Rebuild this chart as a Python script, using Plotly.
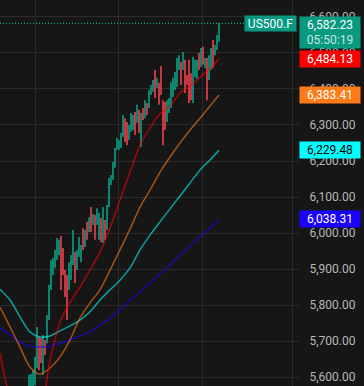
import plotly.graph_objects as go

# ---------------- data ----------------
bar_index = list(range(96))

opens = [
    5570, 5565, 5570, 5585, 5632, 5705, 5700, 5612, 5698, 5700,
    5765, 5848, 5888, 5908, 5930, 5944, 5985, 5952, 5890, 5876,
    5848, 5875, 5918, 5940, 5903, 5940, 5925, 6008, 5967, 6025,
    6008, 6066, 6027, 6044, 6028, 5988, 6036, 5980, 6030, 6015,
    6078, 6138, 6152, 6186, 6236, 6236, 6242, 6272, 6312, 6302,
    6264, 6287, 6292, 6330, 6312, 6336, 6246, 6342, 6325, 6356,
    6352, 6388, 6397, 6446, 6408, 6410, 6458, 6362, 6358, 6314,
    6338, 6353, 6384, 6402, 6412, 6458, 6470, 6458, 6475, 6435,
    6475, 6438, 6368, 6438, 6433, 6495, 6466, 6512, 6462, 6480,
    6430, 6458, 6530, 6498, 6512, 6536,
]
highs = [
    5606, 5608, 5619, 5656, 5739, 5711, 5708, 5717, 5703, 5772,
    5856, 5925, 5931, 5953, 5986, 5981, 5992, 5958, 5897, 5883,
    5919, 5939, 6008, 5947, 5953, 5989, 5967, 6014, 6008, 6031,
    6044, 6072, 6053, 6050, 6069, 6056, 6042, 6072, 6036, 6078,
    6153, 6161, 6197, 6236, 6264, 6258, 6278, 6328, 6319, 6308,
    6300, 6333, 6328, 6336, 6356, 6342, 6333, 6347, 6369, 6361,
    6397, 6411, 6425, 6453, 6431, 6417, 6464, 6369, 6364, 6369,
    6375, 6419, 6431, 6447, 6486, 6494, 6475, 6503, 6481, 6439,
    6481, 6444, 6489, 6481, 6481, 6500, 6514, 6517, 6486, 6486,
    6494, 6514, 6536, 6522, 6550, 6584,
]
lows = [
    5564, 5558, 5564, 5578, 5625, 5619, 5639, 5606, 5661, 5694,
    5758, 5842, 5883, 5903, 5925, 5939, 5842, 5883, 5822, 5758,
    5842, 5869, 5911, 5861, 5897, 5933, 5919, 5953, 5961, 5981,
    6003, 6003, 6022, 5981, 6022, 5981, 5975, 5972, 5981, 6008,
    6072, 6133, 6147, 6181, 6231, 6231, 6236, 6267, 6253, 6244,
    6258, 6281, 6286, 6272, 6306, 6278, 6239, 6314, 6319, 6328,
    6347, 6383, 6392, 6375, 6403, 6356, 6383, 6244, 6286, 6308,
    6333, 6347, 6378, 6397, 6406, 6453, 6411, 6453, 6389, 6411,
    6361, 6369, 6361, 6433, 6428, 6453, 6461, 6467, 6458, 6369,
    6425, 6453, 6458, 6494, 6508, 6531,
]
closes = [
    5600, 5603, 5614, 5650, 5732, 5626, 5645, 5710, 5665, 5766,
    5850, 5918, 5926, 5948, 5980, 5976, 5850, 5890, 5830, 5790,
    5912, 5932, 6000, 5868, 5946, 5982, 5960, 5960, 6002, 5988,
    6038, 6010, 6048, 5988, 6063, 6050, 5982, 6065, 5988, 6072,
    6146, 6156, 6192, 6230, 6258, 6253, 6272, 6322, 6260, 6250,
    6294, 6328, 6322, 6278, 6350, 6284, 6326, 6320, 6363, 6334,
    6390, 6406, 6420, 6382, 6426, 6362, 6390, 6260, 6292, 6363,
    6370, 6412, 6425, 6442, 6480, 6488, 6418, 6497, 6396, 6415,
    6368, 6375, 6482, 6476, 6475, 6458, 6508, 6472, 6481, 6375,
    6488, 6508, 6464, 6517, 6545, 6582.23,
]

ma_index = [-14.5, -9.5, -4.5, 0.5, 5.5, 10.5, 15.5, 20.5, 25.5, 30.5, 35.5, 40.5,
            45.5, 50.5, 55.5, 60.5, 65.5, 70.5, 75.5, 80.5, 85.5, 90.5, 95]
ma_red = [5667, 5550, 5522, 5522, 5514, 5647, 5753, 5808, 5850, 5897, 5947, 6014,
          6092, 6169, 6244, 6292, 6331, 6353, 6389, 6408, 6433, 6456, 6484.13]
ma_orange = [5794, 5739, 5683, 5628, 5608, 5625, 5656, 5703, 5764, 5806, 5842, 5897,
             5953, 6011, 6072, 6119, 6169, 6211, 6250, 6286, 6319, 6353, 6383.41]
ma_teal = [5844, 5814, 5767, 5725, 5711, 5714, 5728, 5742, 5758, 5781, 5814, 5842,
           5869, 5903, 5953, 5994, 6031, 6067, 6103, 6139, 6175, 6203, 6229.48]
ma_blue = [5736, 5717, 5697, 5686, 5683, 5686, 5694, 5703, 5714, 5725, 5744, 5764,
           5786, 5814, 5836, 5861, 5886, 5911, 5939, 5964, 5989, 6014, 6038.31]

symbol = "US500.F"
last_price = 6582.23
countdown = "05:50:19"
price_ticks = [5600, 5700, 5800, 5900, 6000, 6100, 6200, 6300, 6400, 6500, 6600]
time_grid = [3.2, 44.6, 86.5]

# ---------------- style ----------------
BG = "#161616"
GRID = "#2a2a2a"
TICK = "#b8b8b8"
UP = "#0aa88a"
DOWN = "#ff4555"
FONT = "Roboto"

ma_styles = [
    (ma_blue, "rgba(27,0,255,0.62)", "#1b00ff", "white"),
    (ma_teal, "rgba(0,255,255,0.6)", "#00ffff", "black"),
    (ma_orange, "rgba(255,123,23,0.6)", "#ff7b17", "white"),
    (ma_red, "rgba(255,0,0,0.6)", "#ff0000", "white"),
]

fig = go.Figure()

for vals, lc, _, _ in ma_styles:
    fig.add_trace(go.Scatter(
        x=ma_index, y=vals, mode="lines",
        line=dict(color=lc, width=1.5, shape="spline", smoothing=0.8),
        hoverinfo="skip",
    ))

fig.add_trace(go.Ohlc(
    x=bar_index, open=opens, high=highs, low=lows, close=closes,
    increasing=dict(line=dict(color=UP, width=1.5)),
    decreasing=dict(line=dict(color=DOWN, width=1.5)),
    tickwidth=0, hoverinfo="skip",
))

fig.add_shape(type="line", xref="paper", x0=0, x1=1, yref="y",
              y0=last_price, y1=last_price,
              line=dict(color="#0aa88c", width=1.2, dash="1px,2px"))

annotations = []
for vals, _, bc, tc in ma_styles:
    annotations.append(dict(
        xref="paper", yref="y", x=1.024, y=vals[-1], xanchor="left", yanchor="middle",
        text=f"{vals[-1]:,.2f}", showarrow=False, bgcolor=bc, width=58, height=14,
        borderpad=1, align="center", font=dict(family=FONT, size=12, color=tc),
    ))
annotations.append(dict(
    xref="paper", yref="y", x=1.024, y=last_price, xanchor="left", yanchor="middle",
    yshift=-9,
    text=f"{last_price:,.2f}<br><span style='color:#c9e6e0'>{countdown}</span>",
    showarrow=False, bgcolor="#089981", width=58, height=29, borderpad=1, align="center",
    font=dict(family=FONT, size=12, color="white"),
))
annotations.append(dict(
    xref="paper", yref="y", x=1.017, y=last_price, xanchor="right", yanchor="middle",
    text=symbol, showarrow=False, bgcolor="#089981", width=49, height=13, borderpad=1,
    align="center", font=dict(family=FONT, size=12, color="white"),
))

fig.update_layout(
    width=364, height=386,
    margin=dict(l=0, r=72, t=0, b=0),
    paper_bgcolor=BG, plot_bgcolor=BG,
    showlegend=False,
    annotations=annotations,
    xaxis=dict(range=[-14.5, 131.5], rangeslider=dict(visible=False),
               showgrid=True, gridcolor=GRID, gridwidth=1, tickvals=time_grid,
               showticklabels=False, zeroline=False, showline=False, ticks=""),
    yaxis=dict(side="right", range=[5575, 6647.2], tickvals=price_ticks,
               tickformat=",.2f", showgrid=True, gridcolor=GRID, gridwidth=1,
               showline=True, linecolor=GRID, linewidth=1,
               ticks="outside", ticklen=6, tickcolor=GRID,
               tickfont=dict(family=FONT, size=12, color=TICK),
               ticklabelstandoff=8, zeroline=False),
)

fig.write_html(
    "out.html",
    config={"displayModeBar": False},
    post_script="document.body.style.margin='0';document.body.style.background='#161616';",
)
